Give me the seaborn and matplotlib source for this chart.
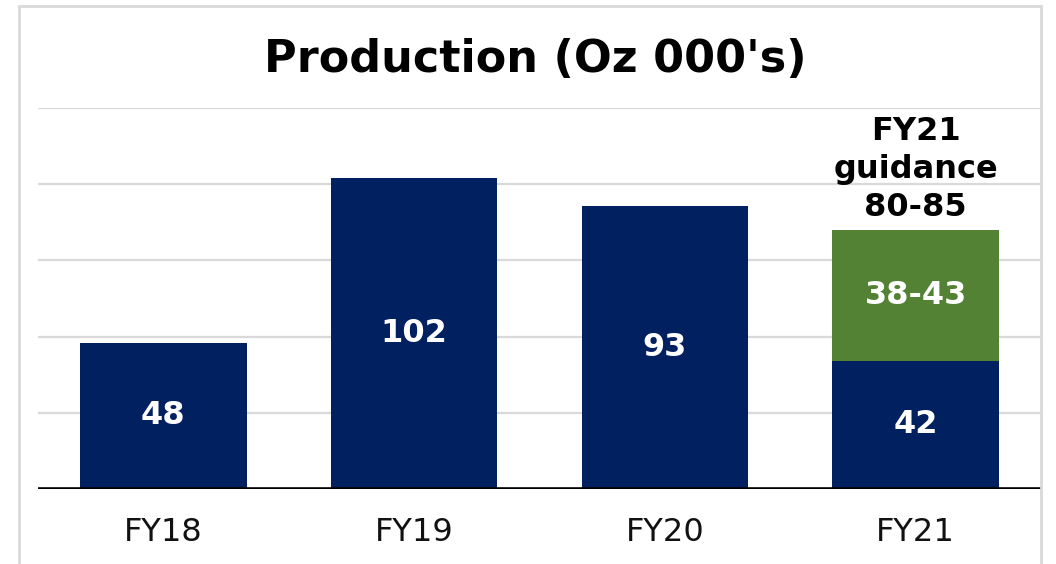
import numpy as np
import pandas as pd
import seaborn as sns
import matplotlib.pyplot as plt
from matplotlib.patches import Rectangle

years = ['FY18', 'FY19', 'FY20', 'FY21']
produced = [48, 102, 93, 42]
guidance_extra = [0, 0, 0, 43]
bar_labels = ['48', '102', '93', '42']
guidance_label = '38-43'
guidance_note = 'FY21\nguidance\n80-85'

NAVY = '#002060'
GREEN = '#548235'
GRID = '#d9d9d9'

sns.set_theme(style='white')
plt.rcParams['font.family'] = ['DejaVu Sans']

df = pd.DataFrame({'year': years, 'produced': produced, 'extra': guidance_extra})

fig = plt.figure(figsize=(10.56, 5.64), dpi=100)
ax = fig.add_axes([38 / 1056, 1 - 489 / 564, (1041 - 38) / 1056, (489 - 108) / 564])

# delivered ounces (navy) with the remaining FY21 guidance stacked on top (green)
sns.barplot(data=df, x='year', y='produced', color=NAVY, width=0.665,
            saturation=1, ax=ax, zorder=3, linewidth=0)
ax.bar(np.arange(len(years)), df['extra'], bottom=df['produced'],
       width=0.665, color=GREEN, zorder=3, linewidth=0)

ax.set_ylim(0, 125)
ax.set_xlim(-0.5, 3.5)
ax.set_yticks([25, 50, 75, 100, 125])
for y in [25, 50, 75, 100, 125]:
    ax.axhline(y, color=GRID, lw=1.6, zorder=1)
ax.axhline(0, color='black', lw=2.6, zorder=4)
ax.set_yticklabels([])
ax.tick_params(axis='y', length=0)
ax.tick_params(axis='x', length=0, labelsize=23, pad=20, labelcolor='#111111')
ax.set_xlabel('')
ax.set_ylabel('')
for s in ax.spines.values():
    s.set_visible(False)

for i, (v, lab) in enumerate(zip(produced, bar_labels)):
    ax.text(i, v / 2, lab, ha='center', va='center', color='white',
            fontsize=23, fontweight='bold', zorder=5)

top = produced[3] + guidance_extra[3]
ax.text(3, produced[3] + guidance_extra[3] / 2, guidance_label, ha='center',
        va='center', color='white', fontsize=23, fontweight='bold', zorder=5)
ax.annotate(guidance_note, xy=(3, top), xytext=(0, 5), textcoords='offset points',
            ha='center', va='bottom', fontsize=23, fontweight='bold',
            color='black', linespacing=1.3, zorder=5, annotation_clip=False)

fig.text(535 / 1056, 1 - 59 / 564, "Production (Oz 000's)", ha='center',
         va='center', fontsize=32, fontweight='bold', color='black')

fig.patches.append(Rectangle((19 / 1056, -0.05), (1041 - 19) / 1056, 1 - 6 / 564 + 0.05,
                             transform=fig.transFigure, fill=False,
                             edgecolor=GRID, lw=2))

fig.savefig('out.png', dpi=100)
